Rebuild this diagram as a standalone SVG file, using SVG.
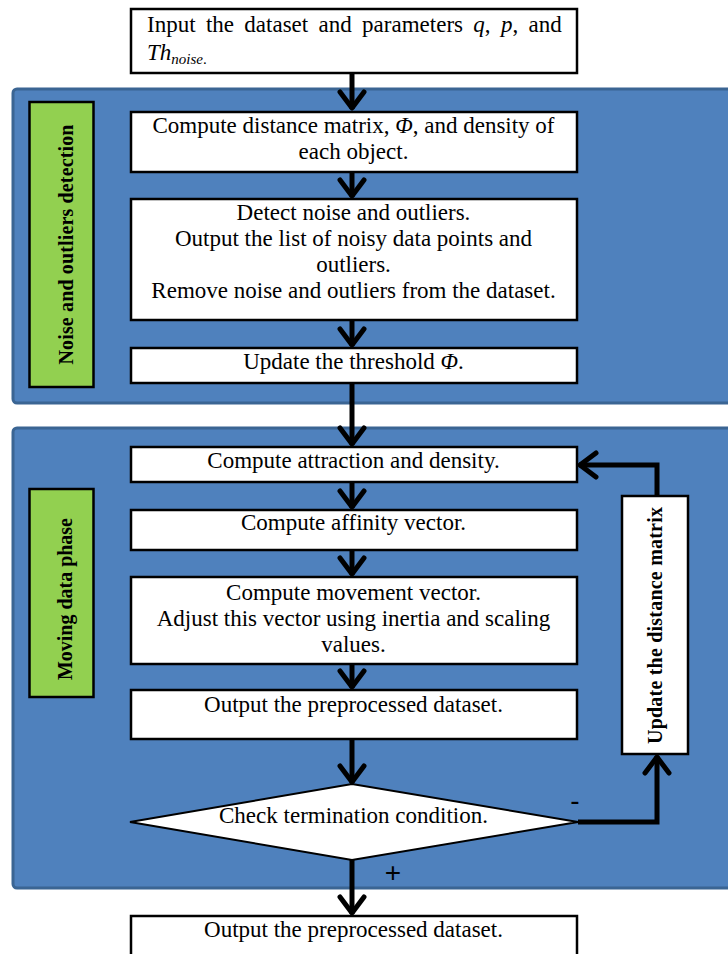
<svg xmlns="http://www.w3.org/2000/svg" width="728" height="954" viewBox="0 0 728 954">
<style>
.panel{fill:#4F81BD;stroke:#3B6593;stroke-width:3}
.tag{fill:#92D050;stroke:#000;stroke-width:2.5}
.box{fill:#fff;stroke:#000;stroke-width:2.5}
.t{font-family:"Liberation Serif","Times New Roman",serif;font-size:23px;fill:#000;text-anchor:middle}
.tl{font-family:"Liberation Serif","Times New Roman",serif;font-size:23px;fill:#000}
.v{font-family:"Liberation Serif","Times New Roman",serif;font-size:20px;font-weight:bold;fill:#000;text-anchor:middle}
.sign{font-family:"Liberation Sans",Arial,sans-serif;font-size:28px;fill:#000;text-anchor:middle}
.conn{fill:none;stroke:#000;stroke-width:5;stroke-linejoin:miter}
.i{font-style:italic}
</style>
<defs>
<marker id="ah" markerUnits="userSpaceOnUse" viewBox="-22 -16 26 32" markerWidth="26" markerHeight="32" refX="0" refY="0" orient="auto" overflow="visible">
<path d="M -17 -12 L -1 0 L -17 12" fill="none" stroke="#000" stroke-width="5" stroke-linecap="round" stroke-linejoin="round"/>
</marker>
</defs>
<rect width="728" height="954" fill="#fff"/>
<g id="panel1"><rect class="panel" x="13" y="89" width="730" height="314" rx="4"/></g>
<g id="panel2"><rect class="panel" x="13" y="428" width="730" height="460" rx="4"/></g>
<g id="label1"><rect class="tag" x="29.5" y="102" width="64" height="285"/>
<text class="v" transform="translate(72.5,244.5) rotate(-90)" textLength="240" lengthAdjust="spacing">Noise and outliers detection</text></g>
<g id="label2"><rect class="tag" x="29.5" y="489" width="64" height="208"/>
<text class="v" transform="translate(72,599) rotate(-90)" textLength="162" lengthAdjust="spacing">Moving data phase</text></g>
<g id="connectors">
<path class="conn" d="M352 73 V109" marker-end="url(#ah)"/>
<path class="conn" d="M352 172 V197" marker-end="url(#ah)"/>
<path class="conn" d="M352 320 V346" marker-end="url(#ah)"/>
<path class="conn" d="M352 383 V445" marker-end="url(#ah)"/>
<path class="conn" d="M352 482 V508" marker-end="url(#ah)"/>
<path class="conn" d="M352 550 V575" marker-end="url(#ah)"/>
<path class="conn" d="M352 664 V688" marker-end="url(#ah)"/>
<path class="conn" d="M352 739 V783" marker-end="url(#ah)"/>
<path class="conn" d="M352 860 V914" marker-end="url(#ah)"/>
<path class="conn" d="M578 822 H657 V756" stroke-width="6" marker-end="url(#ah)"/>
<path class="conn" d="M657 496 V465 H579" stroke-width="6" marker-end="url(#ah)"/>
</g>
<g id="input"><rect class="box" x="131" y="9" width="446" height="64"/>
<text class="tl" x="147" y="32" word-spacing="4.6">Input the dataset and parameters <tspan class="i">q</tspan>, <tspan class="i">p</tspan>, and</text>
<text class="tl" y="60"><tspan x="147" class="i">Th</tspan><tspan class="i" font-size="15" dy="4">noise</tspan><tspan font-size="15">.</tspan></text></g>
<g id="compute-distance"><rect class="box" x="131" y="112" width="446" height="60"/>
<text class="t" x="353.5" y="133">Compute distance matrix, <tspan class="i">Φ</tspan>, and density of</text>
<text class="t" x="353.5" y="159">each object.</text></g>
<g id="detect-noise"><rect class="box" x="131" y="199" width="446" height="121"/>
<text class="t" x="353.5" y="220">Detect noise and outliers.</text>
<text class="t" x="353.5" y="246">Output the list of noisy data points and</text>
<text class="t" x="353.5" y="272">outliers.</text>
<text class="t" x="353.5" y="298">Remove noise and outliers from the dataset.</text></g>
<g id="update-threshold"><rect class="box" x="131" y="348" width="446" height="35"/>
<text class="t" x="353.5" y="369">Update the threshold <tspan class="i">Φ</tspan>.</text></g>
<g id="compute-attraction"><rect class="box" x="131" y="447" width="446" height="35"/>
<text class="t" x="353.5" y="468">Compute attraction and density.</text></g>
<g id="compute-affinity"><rect class="box" x="131" y="510" width="446" height="40"/>
<text class="t" x="353.5" y="530">Compute affinity vector.</text></g>
<g id="compute-movement"><rect class="box" x="131" y="577" width="446" height="87"/>
<text class="t" x="353.5" y="600">Compute movement vector.</text>
<text class="t" x="353.5" y="626">Adjust this vector using inertia and scaling</text>
<text class="t" x="353.5" y="652">values.</text></g>
<g id="output-inner"><rect class="box" x="131" y="690" width="446" height="49"/>
<text class="t" x="353.5" y="712">Output the preprocessed dataset.</text></g>
<g id="update-matrix"><rect class="box" x="622" y="496" width="66" height="258"/>
<text class="v" transform="translate(661.5,625.5) rotate(-90)" textLength="237" lengthAdjust="spacing">Update  the distance matrix</text></g>
<g id="check"><polygon points="130,822 352,784 578,822 352,860" fill="#fff" stroke="#000" stroke-width="2"/>
<text class="t" x="353.5" y="823">Check termination condition.</text>
<text class="sign" x="575" y="810">-</text>
<text class="sign" x="393" y="882">+</text></g>
<g id="output-final"><rect class="box" x="131" y="916" width="446" height="50"/>
<text class="t" x="353.5" y="937">Output the preprocessed dataset.</text></g>
</svg>
